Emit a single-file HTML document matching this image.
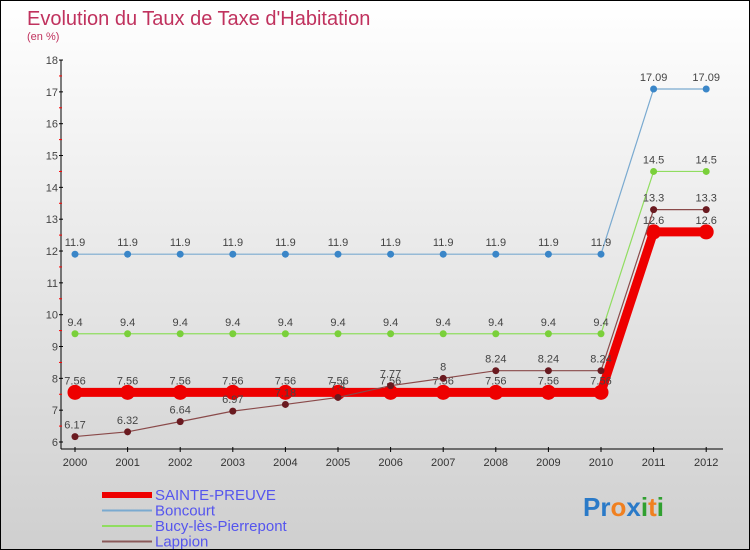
<!DOCTYPE html>
<html><head><meta charset="utf-8"><style>
body{margin:0}
#c{position:relative;width:748px;height:548px;border:1px solid #000;background:linear-gradient(#ffffff,#cfcfcf);overflow:hidden;font-family:"Liberation Sans",sans-serif}
</style></head><body>
<div id="c">
<svg id="s" width="748" height="548"></svg>
</div>
<script>
const years=[2000,2001,2002,2003,2004,2005,2006,2007,2008,2009,2010,2011,2012];
const sainte=[7.56,7.56,7.56,7.56,7.56,7.56,7.56,7.56,7.56,7.56,7.56,12.6,12.6];
const boncourt=[11.9,11.9,11.9,11.9,11.9,11.9,11.9,11.9,11.9,11.9,11.9,17.09,17.09];
const bucy=[9.4,9.4,9.4,9.4,9.4,9.4,9.4,9.4,9.4,9.4,9.4,14.5,14.5];
const lappion=[6.17,6.32,6.64,6.97,7.18,7.4,7.77,8,8.24,8.24,8.24,13.3,13.3];
const yTicks=[6,7,8,9,10,11,12,13,14,15,16,17,18];
const NS="http://www.w3.org/2000/svg";
const s=document.getElementById('s');
const X=i=>74+i*52.6, Y=v=>441-(v-6)*31.83;
function el(t,a,p){const e=document.createElementNS(NS,t);for(const k in a)e.setAttribute(k,a[k]);(p||s).appendChild(e);return e;}
let t=el('text',{x:26,y:24,'font-size':20,fill:'#c0325e'});t.textContent="Evolution du Taux de Taxe d'Habitation";

t=el('text',{x:26,y:39,'font-size':11,fill:'#c0325e'});t.textContent="(en %)";

let a=el('line',{x1:60,y1:59,x2:60,y2:448,stroke:'#000'});
a=el('line',{x1:60,y1:448,x2:722,y2:448,stroke:'#000'});
yTicks.forEach(v=>{el('line',{x1:58,x2:62,y1:Y(v),y2:Y(v),stroke:'#000'});
 if(v<18)el('line',{x1:58,x2:61,y1:Y(v+0.5),y2:Y(v+0.5),stroke:'#f00'});
 const l=el('text',{x:57,y:Y(v)+4,'font-size':11,fill:'#444','text-anchor':'end'});l.textContent=v;
 });
years.forEach((y,i)=>{el('line',{x1:X(i),x2:X(i),y1:446,y2:451,stroke:'#000'});
 const l=el('text',{x:X(i),y:465,'font-size':11,fill:'#333','text-anchor':'middle'});l.textContent=y;
 });
function series(d,col,w,r,dot,name){
 const p=el('polyline',{points:d.map((v,i)=>X(i)+','+Y(v)).join(' '),fill:'none',stroke:col,'stroke-width':w});
 
 d.forEach((v,i)=>{const c=el('circle',{cx:X(i),cy:Y(v),r:r,fill:dot});
  
  const l=el('text',{x:X(i),y:Y(v)-8,'font-size':11,fill:'#444','text-anchor':'middle'});l.textContent=v;
  });
}
series(boncourt,'#7aaad0',1.2,3.5,'#3a86c8','boncourt');
series(bucy,'#90dd60',1.2,3.5,'#7ad03a','bucy');
series(sainte,'#ee0000',9,7.5,'#ee0000','sainte-preuve');
series(lappion,'#8a4a4a',1.2,3.5,'#6a1a20','lappion');
const leg=[['SAINTE-PREUVE','#ee0000',6],['Boncourt','#7aaad0',2],['Bucy-lès-Pierrepont','#90dd60',2],['Lappion','#8a5a5a',2]];
leg.forEach((g,i)=>{const y=492+i*15.5;el('line',{x1:101,x2:151,y1:y+2,y2:y+2,stroke:g[1],'stroke-width':g[2]});
 const l=el('text',{x:154,y:y+7,'font-size':15,fill:'#5555ee'});l.textContent=g[0];
 });
const lg=el('text',{x:582,y:515,'font-size':26,'font-weight':'bold'});

[['Pr','#2a7ac8'],['o','#f08020'],['x','#2a7ac8'],['i','#30a030'],['t','#f08020'],['i','#30a030']].forEach(p=>{const ts=el('tspan',{fill:p[1]},lg);ts.textContent=p[0];});
</script>
</body></html>
